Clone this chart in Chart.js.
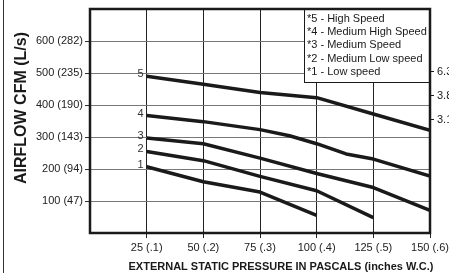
<!DOCTYPE html>
<html>
<head>
<meta charset="utf-8">
<script src="https://cdn.jsdelivr.net/npm/chart.js@4.4.1/dist/chart.umd.min.js"></script>
<style>
  html, body { margin: 0; padding: 0; background: #fff; }
  #c { display: block; }
</style>
</head>
<body>
<canvas id="c" width="449" height="273"></canvas>
<script>
// ── data (Pa → CFM) ──
const xSpeed5 = [25, 50, 75, 100, 125, 150];
const cfmSpeed5 = [490, 465, 439, 423, 372, 321];
const xSpeed4 = [25, 50, 75, 88, 100, 113, 125, 150];
const cfmSpeed4 = [367, 348, 323, 304, 279, 247, 231, 178];
const xSpeed3 = [25, 50, 75, 100, 125, 150];
const cfmSpeed3 = [297, 279, 234, 186, 142, 71];
const xSpeed2 = [25, 50, 75, 100, 125];
const cfmSpeed2 = [255, 226, 177, 132, 48];
const xSpeed1 = [25, 50, 75, 100];
const cfmSpeed1 = [207, 160, 128, 55];

const curveNumbers = ['5', '4', '3', '2', '1'];
const legendLabels = ['*5 - High Speed', '*4 - Medium High Speed', '*3 - Medium Speed', '*2 - Medium Low speed', '*1 - Low speed'];

const xTicks = { 25: '25 (.1)', 50: '50 (.2)', 75: '75 (.3)', 100: '100 (.4)', 125: '125 (.5)', 150: '150 (.6)' };
const yTicks = { 100: '100 (47)', 200: '200 (94)', 300: '300 (143)', 400: '400 (190)', 500: '500 (235)', 600: '600 (282)' };

// cut-off labels on the right edge
const rightLabels = ['6.3', '3.8', '3.1'];
const rightLabelAt = [506, 430, 357];

const FONT = "'Liberation Sans', Arial, sans-serif";
const INK = '#1a1a1a';

const pts = (xs, ys) => xs.map((x, i) => ({ x, y: ys[i] }));
const serie = [
  pts(xSpeed5, cfmSpeed5), pts(xSpeed4, cfmSpeed4), pts(xSpeed3, cfmSpeed3),
  pts(xSpeed2, cfmSpeed2), pts(xSpeed1, cfmSpeed1)
];

// ── extras: frame, numbers, legend box, titles ──
const decor = {
  id: 'decor',
  afterDraw(chart) {
    const { ctx, chartArea: a, scales: { x, y } } = chart;
    ctx.save();

    // outer frame line on the left
    ctx.strokeStyle = '#333';
    ctx.lineWidth = 1;
    ctx.beginPath(); ctx.moveTo(3.5, 0); ctx.lineTo(3.5, 273); ctx.stroke();

    // curve numbers
    ctx.fillStyle = '#333';
    ctx.font = `11px ${FONT}`;
    ctx.textAlign = 'right';
    ctx.textBaseline = 'middle';
    chart.data.datasets.forEach((ds, i) => {
      const p = ds.data[0];
      ctx.fillText(curveNumbers[i], x.getPixelForValue(p.x) - 3, y.getPixelForValue(p.y) - 2);
    });

    // legend box
    const bx = 304, by = a.top, bw = a.right - bx, bh = 73;
    ctx.fillStyle = '#fff';
    ctx.fillRect(bx, by, bw, bh);
    ctx.strokeStyle = INK;
    ctx.lineWidth = 1;
    ctx.strokeRect(bx + 0.5, by + 0.5, bw, bh);
    ctx.fillStyle = INK;
    ctx.textAlign = 'left';
    legendLabels.forEach((t, i) => ctx.fillText(t, bx + 3, by + 10 + i * 13.2));

    // plot border
    ctx.lineWidth = 2.5;
    ctx.strokeRect(a.left, a.top, a.right - a.left, a.bottom - a.top);

    // right edge labels
    ctx.lineWidth = 1;
    ctx.fillStyle = '#222';
    rightLabels.forEach((t, i) => {
      const py = Math.round(y.getPixelForValue(rightLabelAt[i])) + 0.5;
      ctx.beginPath(); ctx.moveTo(a.right, py); ctx.lineTo(a.right + 4, py); ctx.stroke();
      ctx.fillText(t, a.right + 7, py);
    });

    // axis titles
    ctx.fillStyle = INK;
    ctx.textAlign = 'center';
    ctx.font = `bold 11px ${FONT}`;
    ctx.fillText('EXTERNAL STATIC PRESSURE IN PASCALS (inches W.C.)', 281, 267);
    ctx.translate(22, 108);
    ctx.rotate(-Math.PI / 2);
    ctx.font = `bold 16px ${FONT}`;
    ctx.fillText('AIRFLOW CFM (L/s)', 0, 0);

    ctx.restore();
  }
};

const hideEnds = (c, col) => (c.tick.value === 0 || c.tick.value === 700 ? 'rgba(0,0,0,0)' : col);

new Chart(document.getElementById('c'), {
  type: 'line',
  data: {
    datasets: serie.map((d, i) => ({
      label: legendLabels[i],
      data: d,
      borderColor: INK,
      borderWidth: 3.5,
      pointRadius: 0,
      tension: 0,
      borderCapStyle: 'butt',
      borderJoinStyle: 'round'
    }))
  },
  options: {
    responsive: false,
    devicePixelRatio: 1,
    animation: false,
    layout: { padding: { top: 9, right: 19, left: 0, bottom: 0 } },
    plugins: { legend: { display: false }, tooltip: { enabled: false } },
    scales: {
      x: {
        type: 'linear', min: 0, max: 150,
        afterFit: s => { s.height = 40; s.paddingLeft = 0; s.paddingRight = 0; },
        border: { display: false },
        grid: { color: c => hideEnds(c, '#222'), tickColor: c => hideEnds(c, '#222'), tickLength: 5, lineWidth: 1 },
        ticks: { stepSize: 25, padding: 3, maxRotation: 0, autoSkip: false, color: '#222', font: { family: FONT, size: 11 },
                 callback: v => xTicks[v] || '' }
      },
      y: {
        min: 0, max: 700,
        afterFit: s => { s.width = 90; s.paddingTop = 0; s.paddingBottom = 0; },
        border: { display: false },
        grid: { color: c => hideEnds(c, '#777'), tickColor: c => hideEnds(c, '#333'), tickLength: 5, lineWidth: 1 },
        ticks: { stepSize: 100, padding: 2, autoSkip: false, color: '#222', font: { family: FONT, size: 11 },
                 callback: v => yTicks[v] || '' }
      }
    }
  },
  plugins: [decor]
});
</script>
</body>
</html>
